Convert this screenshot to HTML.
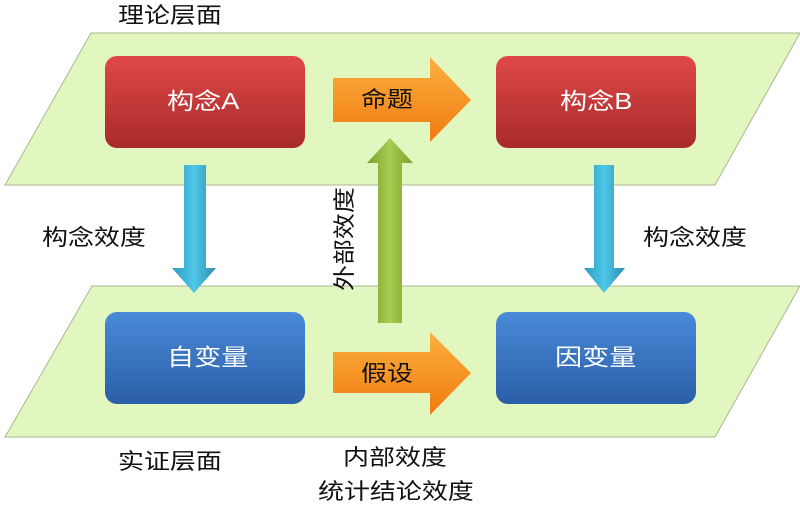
<!DOCTYPE html>
<html><head><meta charset="utf-8"><style>
body{margin:0;background:#fff;width:800px;height:505px;overflow:hidden;font-family:"Liberation Sans","Noto Sans CJK SC",sans-serif}
.t{position:absolute;font-size:22px;color:#111;white-space:nowrap;line-height:1;transform:scaleX(1.18);transform-origin:left center}
.w{color:#fff;font-size:23px}
</style></head><body>
<svg width="800" height="505" style="position:absolute;left:0;top:0">
<defs>
<linearGradient id="red" x1="0" y1="0" x2="0" y2="1"><stop offset="0" stop-color="#e04848"/><stop offset="1" stop-color="#a82a2a"/></linearGradient>
<linearGradient id="blue" x1="0" y1="0" x2="0" y2="1"><stop offset="0" stop-color="#4a8ad8"/><stop offset="1" stop-color="#2a5ea8"/></linearGradient>
<linearGradient id="org" x1="0" y1="0" x2="0" y2="1"><stop offset="0" stop-color="#fbb040"/><stop offset="1" stop-color="#f07a10"/></linearGradient>
<linearGradient id="grn" x1="0" y1="0" x2="1" y2="0"><stop offset="0" stop-color="#7aa030"/><stop offset="0.5" stop-color="#a8cc50"/><stop offset="1" stop-color="#7aa030"/></linearGradient>
<linearGradient id="cy" x1="0" y1="0" x2="1" y2="0"><stop offset="0" stop-color="#2a9cc0"/><stop offset="0.5" stop-color="#50c8e8"/><stop offset="1" stop-color="#2a8cb0"/></linearGradient>
</defs>
<polygon points="91,33 800,33 715,185 5,185" fill="#e2f7c0" stroke="#a8b890" stroke-width="1"/>
<polygon points="92,286 800,286 715,437 5,437" fill="#e2f7c0" stroke="#a8b890" stroke-width="1"/>
<rect x="105" y="56" width="200" height="92" rx="12" fill="url(#red)"/>
<rect x="496" y="56" width="200" height="92" rx="12" fill="url(#red)"/>
<rect x="105" y="312" width="200" height="92" rx="12" fill="url(#blue)"/>
<rect x="496" y="312" width="200" height="92" rx="12" fill="url(#blue)"/>
<polygon points="333,78 430,78 430,57 471,100 430,142 430,122 333,122" fill="url(#org)"/>
<polygon points="333,352 430,352 430,332 471,373 430,415 430,393 333,393" fill="url(#org)"/>
<polygon points="378,323 402,323 402,163 413,163 390,138 367,163 378,163" fill="url(#grn)"/>
<polygon points="184,165 206,165 206,268 216,268 194,293 172,268 184,268" fill="url(#cy)"/>
<polygon points="594,165 614,165 614,268 625,268 604,293 584,268 594,268" fill="url(#cy)"/>
</svg>
<div class="t" style="left:118px;top:5px">理论层面</div>
<div class="t" style="left:42px;top:227px">构念效度</div>
<div class="t" style="left:643px;top:227px">构念效度</div>
<div class="t" style="left:118px;top:451px">实证层面</div>
<div class="t" style="left:343px;top:447px">内部效度</div>
<div class="t" style="left:318px;top:481px">统计结论效度</div>
<div class="t" style="left:345px;top:183px;transform:rotate(-90deg) scaleX(1.18);transform-origin:0 0;top:291px;left:334px">外部效度</div>
<div class="t w" style="left:167px;top:90px">构念A</div>
<div class="t w" style="left:560px;top:90px">构念B</div>
<div class="t w" style="left:167px;top:346px">自变量</div>
<div class="t w" style="left:555px;top:346px">因变量</div>
<div class="t" style="left:361px;top:89px">命题</div>
<div class="t" style="left:361px;top:363px">假设</div>
</body></html>
